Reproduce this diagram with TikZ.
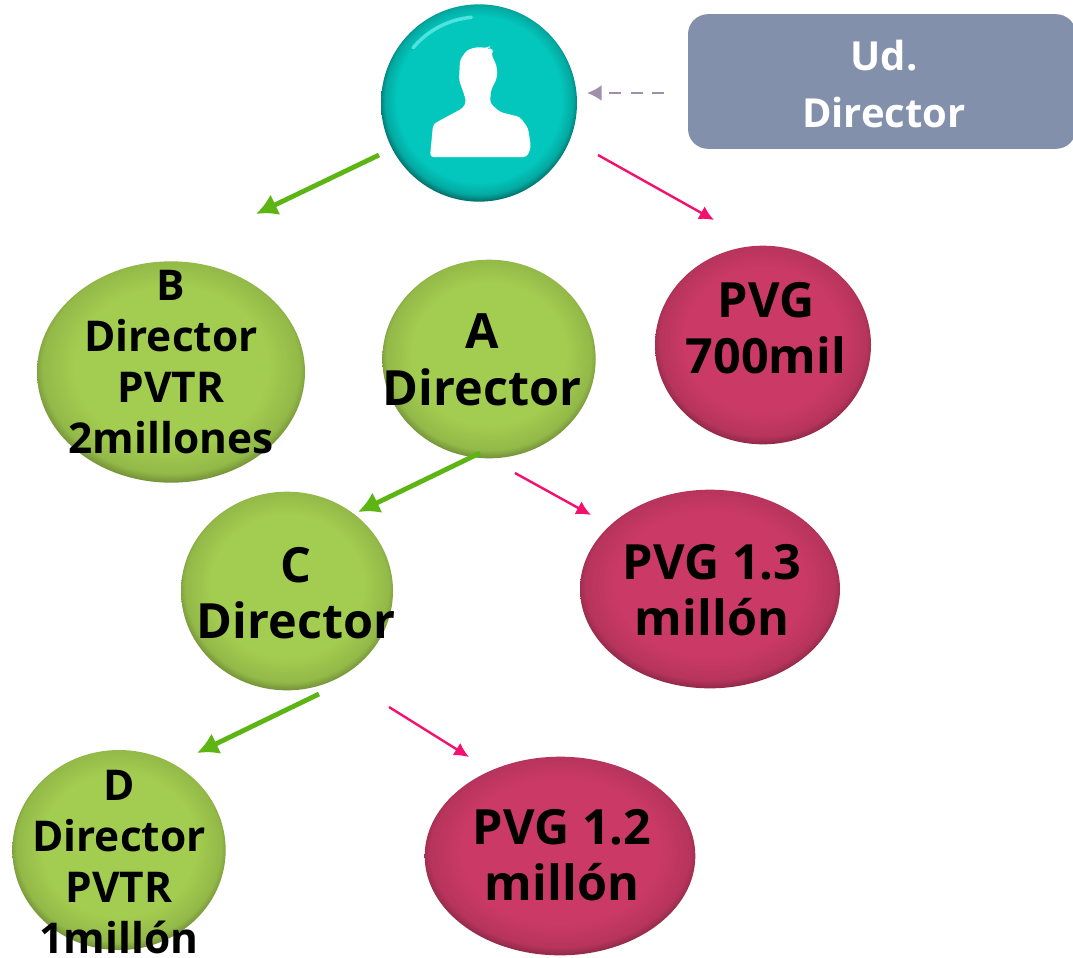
\documentclass[tikz,border=0pt]{standalone}
\usepackage{fontspec}
\setmainfont{Open Sans}
\usetikzlibrary{shapes.geometric,arrows.meta}

\definecolor{ballteal}{HTML}{03C7BD}
\definecolor{ballgreen}{HTML}{A3CD50}
\definecolor{ballred}{HTML}{CB3A66}
\definecolor{boxblue}{HTML}{8290AB}
\definecolor{greenline}{HTML}{5CB512}
\definecolor{pinkline}{HTML}{F5106E}
\definecolor{dashline}{HTML}{A08FA6}

\pgfdeclareradialshading{tealball}{\pgfpoint{0bp}{1.5bp}}{color(0bp)=(ballteal); color(21bp)=(ballteal); color(24bp)=(ballteal!85!black); color(26.5bp)=(ballteal!40!black); color(50bp)=(ballteal!40!black)}
\pgfdeclareradialshading{greenball}{\pgfpoint{0bp}{2bp}}{color(0bp)=(ballgreen); color(18bp)=(ballgreen); color(24bp)=(ballgreen!90!black); color(27bp)=(ballgreen!60!black); color(50bp)=(ballgreen!60!black)}
\pgfdeclareradialshading{redball}{\pgfpoint{0bp}{2bp}}{color(0bp)=(ballred); color(18bp)=(ballred); color(24bp)=(ballred!90!black); color(27bp)=(ballred!60!black); color(50bp)=(ballred!60!black)}

\tikzset{
  ball/.style={ellipse, inner sep=0pt},
  greenbase/.style={ball, shading=greenball},
  redbase/.style={ball, shading=redball},
  bigtxt/.style={align=center, font=\fontsize{36.4}{42.5}\selectfont\bfseries},
  smalltxt/.style={align=center, font=\fontsize{31.8}{38.4}\selectfont\bfseries},
  greenarrow/.style={draw=greenline, line width=3.6pt, -{Latex[length=16pt,width=17pt]}},
  pinkarrow/.style={draw=pinkline, line width=1.8pt, -{Latex[length=11pt,width=11pt]}},
}

\begin{document}
\begin{tikzpicture}[x=0.75pt, y=-0.75pt]

  \useasboundingbox (0,0) rectangle (1073,957);

  % top circle and the box beside it
  \node[ball, shading=tealball, minimum width=147pt, minimum height=148pt] (user) at (479,103) {};
  \draw[ballteal!70!cyan!70!white, line width=2.6pt, line cap=round] (user.center) ++(-140:86) arc[start angle=-140, end angle=-95, radius=86];
  \fill[white, rounded corners=2.5pt] (430,157) -- (433,125) -- (437,122) -- (450,115) -- (463,108) -- (466,102)
    -- (465,97) -- (459,80) -- (460,60) -- (467,50) -- (477,47) -- (488,48) -- (489,47) -- (490,50) -- (494,50)
    -- (491,53) -- (497,67) -- (497,78) -- (491,90) -- (490,103) -- (500,112) -- (520,117) -- (528,128) -- (531,147)
    -- (527,157) -- cycle;

  \node[fill=boxblue, rounded corners=15pt, minimum width=291pt, minimum height=101pt, inner sep=0pt] (you) at (882,81.5) {};
  \node[align=center, text=white, font=\fontsize{30}{42.5}\selectfont\bfseries] (youtxt) at (884,84) {Ud.\\Director};

  % green circles
  \node[greenbase, minimum width=201pt, minimum height=166pt] (B) at (171,372) {};
  \node[greenbase, minimum width=160pt, minimum height=149pt] (A) at (489,359) {};
  \node[greenbase, minimum width=159pt, minimum height=149pt] (C) at (287,591) {};
  \node[greenbase, minimum width=160pt, minimum height=150pt] (D) at (119,850) {};

  % red circles
  \node[redbase, minimum width=162pt, minimum height=149pt] (P) at (763,345) {};
  \node[redbase, minimum width=195pt, minimum height=149pt] (Q) at (710,589) {};
  \node[redbase, minimum width=203pt, minimum height=149pt] (R) at (560,856) {};

  % texts
  \node[smalltxt] (Btxt) at (171,362) {B\\Director\\PVTR\\2millones};
  \node[bigtxt] (Atxt) at (482,360) {A\\Director};
  \node[bigtxt] (Ctxt) at (296,593) {C\\Director};
  \node[smalltxt] (Dtxt) at (119,862) {D\\Director\\PVTR\\1millón};
  \node[bigtxt] (Ptxt) at (766,328) {PVG\\700mil};
  \node[bigtxt] (Qtxt) at (712,590) {PVG 1.3\\millón};
  \node[bigtxt] (Rtxt) at (562,855) {PVG 1.2\\millón};

  % arrows
  \coordinate (g1a) at (379,155);
  \coordinate (g1b) at (256,214);
  \coordinate (g2a) at (480,453);
  \coordinate (g2b) at (358,512);
  \coordinate (g3a) at (319,694);
  \coordinate (g3b) at (197,753);
  \coordinate (p1a) at (598,155);
  \coordinate (p1b) at (714,220);
  \coordinate (p2a) at (515,473);
  \coordinate (p2b) at (591,515);
  \coordinate (p3a) at (389,707);
  \coordinate (p3b) at (469,757);
  \coordinate (da) at (664,93);
  \coordinate (db) at (587,93);

  \draw[greenarrow] (g1a) -- (g1b);
  \draw[greenarrow] (g2a) -- (g2b);
  \draw[greenarrow] (g3a) -- (g3b);
  \draw[pinkarrow] (p1a) -- (p1b);
  \draw[pinkarrow] (p2a) -- (p2b);
  \draw[pinkarrow] (p3a) -- (p3b);
  \draw[draw=dashline, line width=1.8pt, dash pattern=on 9pt off 7pt, -{Latex[length=11pt,width=12pt]}] (da) -- (db);

\end{tikzpicture}
\end{document}
